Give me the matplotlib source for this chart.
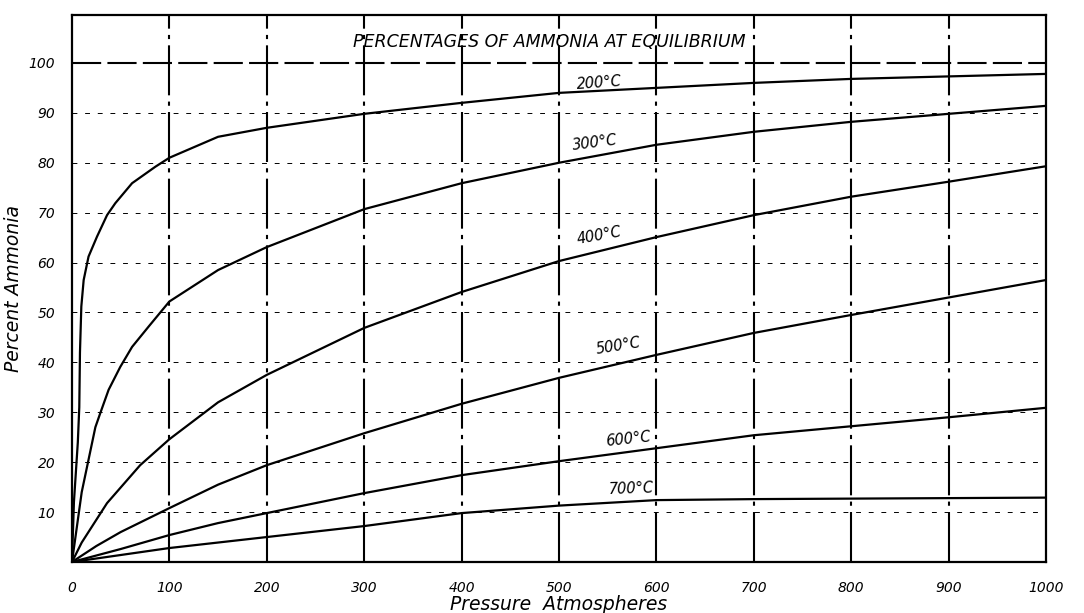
import matplotlib.pyplot as plt

# pressure (atm) and percent ammonia, one list per isotherm
p_200 = [0, 2, 6, 7.5, 8.2, 9.6, 12, 17, 25.7, 36, 44.5, 61.7, 85.6, 100, 150, 200, 300, 400, 500, 600, 700, 800, 900, 1000]
nh3_200 = [0, 12, 24, 31, 42, 51.2, 56.5, 61.2, 65.2, 69.5, 71.9, 75.9, 79.2, 81, 85.2, 87, 89.8, 92, 94, 95, 96, 96.8, 97.3, 97.8]

p_300 = [0, 10, 24, 29, 37.6, 49.6, 61.7, 78.8, 100, 150, 200, 300, 400, 500, 600, 700, 800, 900, 1000]
nh3_300 = [0, 14, 27, 29.8, 34.5, 39.1, 43.1, 47.2, 52.2, 58.5, 63.1, 70.7, 75.9, 80, 83.6, 86.2, 88.2, 89.8, 91.4]

p_400 = [0, 10, 36, 70, 100, 150, 200, 300, 400, 500, 600, 700, 800, 900, 1000]
nh3_400 = [0, 3.9, 11.8, 19.4, 24.6, 32, 37.5, 46.9, 54.1, 60.3, 65.1, 69.5, 73.2, 76.2, 79.3]

p_500 = [0, 25, 50, 100, 150, 200, 300, 400, 500, 600, 700, 800, 900, 1000]
nh3_500 = [0, 3.2, 6, 10.8, 15.5, 19.4, 25.8, 31.7, 36.9, 41.5, 45.9, 49.5, 53, 56.5]

p_600 = [0, 50, 100, 150, 200, 300, 400, 500, 600, 700, 800, 900, 1000]
nh3_600 = [0, 2.6, 5.4, 7.8, 9.8, 13.8, 17.4, 20.2, 22.8, 25.4, 27.2, 29, 30.9]

p_700 = [0, 50, 100, 200, 300, 400, 500, 600, 700, 800, 900, 1000]
nh3_700 = [0, 1.4, 2.8, 5, 7.2, 9.8, 11.3, 12.4, 12.6, 12.7, 12.8, 12.9]

# label text, anchor (pressure, percent) and tilt for each curve
curve_labels = ['200°C', '300°C', '400°C', '500°C', '600°C', '700°C']
label_x = [518, 514, 518, 538, 548, 551]
label_y = [95.6, 83.4, 64.7, 42.6, 24.2, 14.6]
label_rot = [4, 7, 10, 9, 6, 2]

x_ticks = list(range(0, 1001, 100))
y_ticks = list(range(10, 101, 10))

plt.rcParams['font.family'] = ['DejaVu Sans']

fig = plt.figure(figsize=(10.84, 6.13), dpi=100)
ax = fig.add_axes([0.0664, 0.0832, 0.8986, 0.8923])

# grid: light dashes across, heavier broken lines down
for y in y_ticks[:-1]:
    ax.axhline(y, color='black', lw=0.7, ls=(0, (5, 8)), zorder=1)
ax.axhline(100, color='black', lw=1.5, ls=(0, (14, 3)), zorder=1)
for x in x_ticks[1:-1]:
    ax.axvline(x, color='black', lw=1.5, ls=(0, (24, 3, 2, 3)), zorder=1)

series = [(p_200, nh3_200), (p_300, nh3_300), (p_400, nh3_400),
          (p_500, nh3_500), (p_600, nh3_600), (p_700, nh3_700)]
for (px, py) in series:
    ax.plot(px, py, color='black', lw=1.6, zorder=3)

for lab, lx, ly, rot in zip(curve_labels, label_x, label_y, label_rot):
    ax.text(lx, ly, lab, fontsize=10.5, style='italic', rotation=rot,
            ha='left', va='center', zorder=4, rotation_mode='anchor')

ax.text(0.49, 0.951, 'PERCENTAGES OF AMMONIA AT EQUILIBRIUM', transform=ax.transAxes,
        ha='center', va='center', fontsize=12.5, style='italic')

ax.set_xlim(0, 1000)
ax.set_ylim(0, 109.6)
ax.set_xticks(x_ticks)
ax.set_yticks(y_ticks)
ax.set_xticklabels([str(v) for v in x_ticks], fontsize=10, style='italic')
ax.set_yticklabels([str(v) for v in y_ticks], fontsize=10, style='italic')
ax.tick_params(axis='x', length=0, pad=14)
ax.tick_params(axis='y', length=0, pad=12)
ax.set_xlabel('Pressure  Atmospheres', fontsize=13.5, style='italic', labelpad=0)
ax.set_ylabel('Percent Ammonia', fontsize=13.5, style='italic', labelpad=4)
for s in ax.spines.values():
    s.set_linewidth(1.6)

fig.savefig('out.png', dpi=100)
